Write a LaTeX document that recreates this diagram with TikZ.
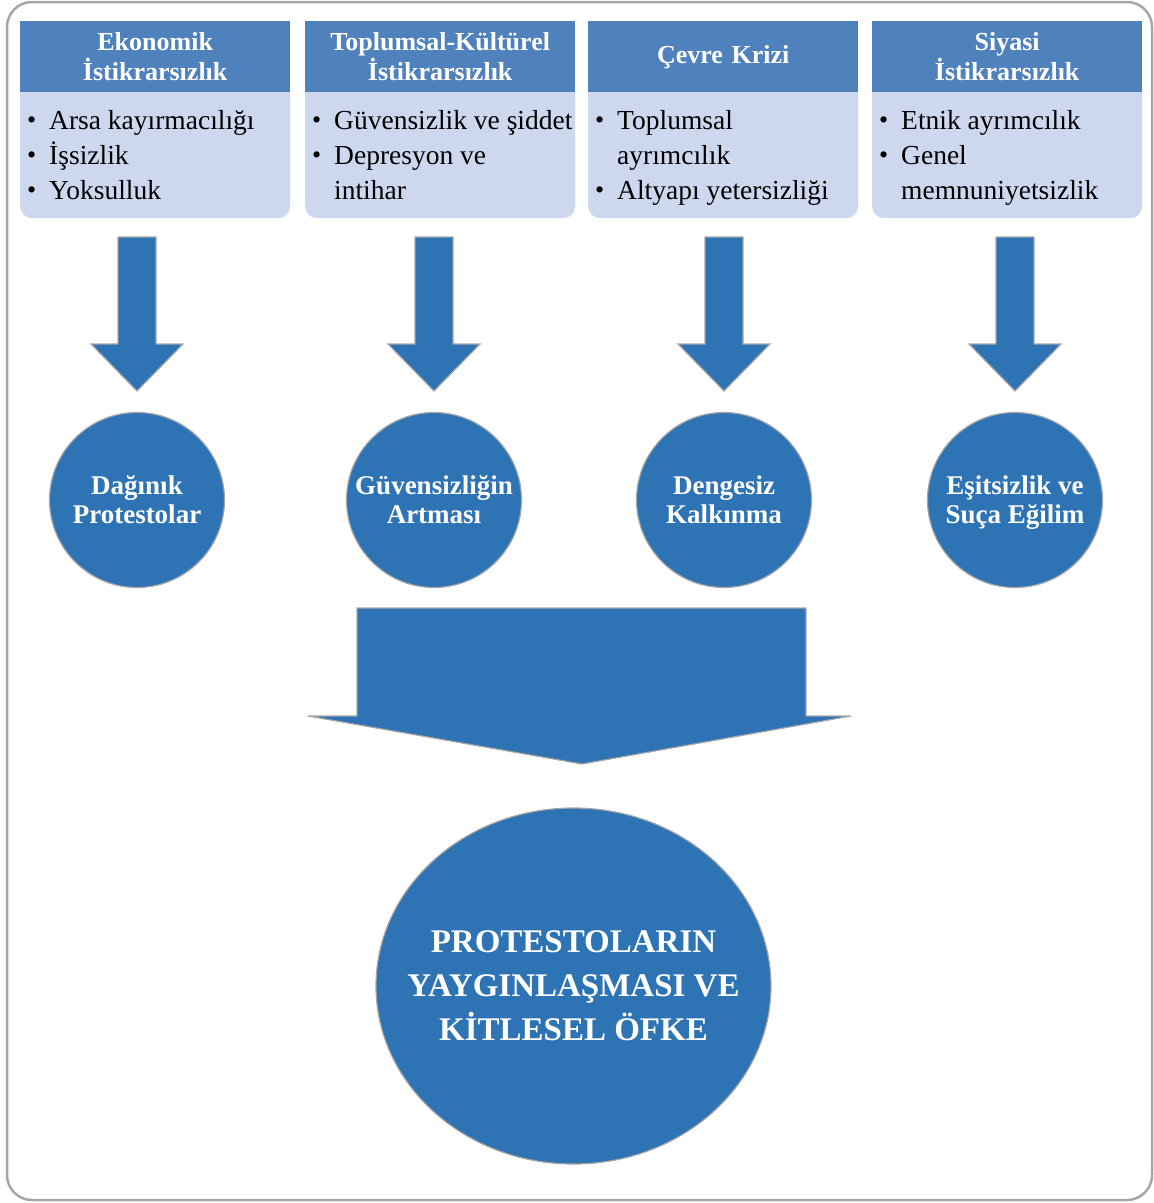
\documentclass[tikz,border=0pt]{standalone}
\usepackage{fontspec}
\setmainfont{Liberation Serif}
\usetikzlibrary{shapes.geometric}
\definecolor{hdrblue}{RGB}{79,129,189}
\definecolor{bodyblue}{RGB}{205,216,238}
\definecolor{mainblue}{RGB}{46,116,181}
\definecolor{edgegray}{RGB}{166,166,166}
\newcommand{\bul}{\makebox[22pt][l]{\raisebox{0.5pt}{\fontsize{26}{26}\selectfont\textbullet}}}
\begin{document}
\begin{tikzpicture}[x=1pt,y=-1pt,
  frame/.style={draw=edgegray, line width=2.5pt, rounded corners=25pt},
  hdr/.style={fill=hdrblue, minimum width=270pt, minimum height=71pt, inner sep=0pt,
    text width=268pt, align=center, text=white, anchor=north west,
    font=\bfseries\fontsize{26}{30}\selectfont},
  bodybox/.style={fill=bodyblue, rounded corners=12pt, minimum width=270pt,
    minimum height=136pt, inner sep=0pt, anchor=north west},
  listtext/.style={anchor=base west, inner sep=0pt, font=\fontsize{27.5}{35}\selectfont},
  blockarrow/.style={fill=mainblue, draw=edgegray, line width=1.2pt},
  effect/.style={circle, fill=mainblue, draw=edgegray, line width=1.2pt,
    minimum size=175pt, inner sep=0pt},
  efflabel/.style={text=white, align=center, inner sep=0pt, yshift=-3pt,
    font=\bfseries\fontsize{27}{29}\selectfont},
  downarrow/.pic={\draw[blockarrow] (-19,0) -- (19,0) -- (19,107) -- (46,107) -- (0,154)
    -- (-46,107) -- (-19,107) -- cycle;}
]
\useasboundingbox (0,0) rectangle (1154,1203);
\draw[frame] (7,2) rectangle (1152,1200);

% column 1
\node[bodybox] (b1) at (20,82) {};
\node[hdr] (h1) at (20,21) {Ekonomik\\İstikrarsızlık};
\node[listtext] (l1) at (27,129) {\begin{tabular}[t]{@{}l@{}l@{}}
  \bul & Arsa kayırmacılığı\\ \bul & İşsizlik\\ \bul & Yoksulluk\end{tabular}};
% column 2
\node[bodybox] (b2) at (305,82) {};
\node[hdr] (h2) at (305,21) {Toplumsal-Kültürel\\İstikrarsızlık};
\node[listtext] (l2) at (312,129) {\begin{tabular}[t]{@{}l@{}l@{}}
  \bul & Güvensizlik ve şiddet\\ \bul & Depresyon ve\\ & intihar\end{tabular}};
% column 3
\node[bodybox] (b3) at (588,82) {};
\node[hdr] (h3) at (588,21) {Çevre Krizi};
\node[listtext] (l3) at (595,129) {\begin{tabular}[t]{@{}l@{}l@{}}
  \bul & Toplumsal\\ & ayrımcılık\\ \bul & Altyapı yetersizliği\end{tabular}};
% column 4
\node[bodybox] (b4) at (872,82) {};
\node[hdr] (h4) at (872,21) {Siyasi\\İstikrarsızlık};
\node[listtext] (l4) at (879,129) {\begin{tabular}[t]{@{}l@{}l@{}}
  \bul & Etnik ayrımcılık\\ \bul & Genel\\ & memnuniyetsizlik\end{tabular}};

% arrows
\pic at (137,237) {downarrow};
\pic at (434,237) {downarrow};
\pic at (724,237) {downarrow};
\pic at (1015,237) {downarrow};

% circles
\node[effect, label={[efflabel]center:Dağınık\strut\\Protestolar\strut}] (c1) at (137,500) {};
\node[effect, label={[efflabel]center:Güvensizliğin\strut\\Artması\strut}] (c2) at (434,500) {};
\node[effect, label={[efflabel]center:Dengesiz\strut\\Kalkınma\strut}] (c3) at (724,500) {};
\node[effect, label={[efflabel]center:Eşitsizlik ve\strut\\Suça Eğilim\strut}] (c4) at (1015,500) {};

% big arrow
\draw[blockarrow] (357,608) -- (806,608) -- (806,716) -- (851,716) -- (582,764)
  -- (308,716) -- (357,716) -- cycle;

% result
\node[ellipse, fill=mainblue, draw=edgegray, line width=1.2pt, minimum width=395pt,
  minimum height=356pt, inner sep=0pt,
  label={[text=white, align=center, font=\bfseries\fontsize{33}{44}\selectfont]center:PROTESTOLARIN\\YAYGINLAŞMASI VE\\KİTLESEL ÖFKE}]
  (res) at (573.5,986) {};
\end{tikzpicture}
\end{document}
